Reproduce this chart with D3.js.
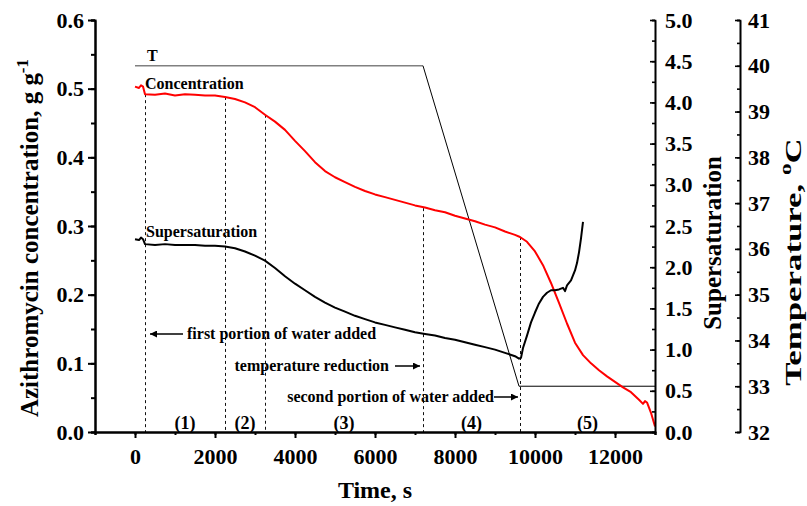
<!DOCTYPE html>
<html>
<head>
<meta charset="utf-8">
<script src="https://cdn.jsdelivr.net/npm/d3@7/dist/d3.min.js"></script>
<style>
  html, body { margin: 0; padding: 0; background: #fff; }
  svg { display: block; }
  svg text { font-family: "Liberation Serif", "Times New Roman", serif !important; font-weight: 700 !important; fill: #000; }
</style>
</head>
<body>
<svg id="chart" width="807" height="506"></svg>
<script>
// Azithromycin concentration (g/g) over time (s)
const concTime = [0, 100, 150, 200, 250, 500, 750, 1000, 1250, 1500, 1750, 2000, 2250, 2500, 2750, 3000, 3250, 3500, 3750, 4000, 4250, 4500, 4750, 5000, 5250, 5500, 5750, 6000, 6250, 6500, 6750, 7000, 7250, 7500, 7750, 8000, 8250, 8500, 8750, 9000, 9250, 9500, 9625, 9800, 10000, 10200, 10400, 10600, 10800, 11000, 11200, 11400, 11600, 11800, 12000, 12200, 12400, 12600, 12700, 12750, 12800, 12900, 13000];
const concValue = [0.503, 0.501, 0.505, 0.503, 0.492, 0.491, 0.493, 0.490, 0.492, 0.491, 0.490, 0.490, 0.488, 0.485, 0.480, 0.473, 0.462, 0.452, 0.440, 0.424, 0.409, 0.393, 0.380, 0.371, 0.364, 0.357, 0.351, 0.346, 0.342, 0.338, 0.334, 0.330, 0.327, 0.323, 0.320, 0.315, 0.311, 0.307, 0.302, 0.298, 0.292, 0.287, 0.284, 0.277, 0.263, 0.243, 0.217, 0.188, 0.158, 0.130, 0.112, 0.100, 0.090, 0.081, 0.073, 0.065, 0.058, 0.047, 0.041, 0.045, 0.043, 0.028, 0.008];

// Supersaturation over time (s)
const supTime = [0, 100, 150, 200, 250, 500, 750, 1000, 1250, 1500, 1750, 2000, 2250, 2500, 2750, 3000, 3250, 3500, 3750, 4000, 4250, 4500, 4750, 5000, 5250, 5500, 5750, 6000, 6250, 6500, 6750, 7000, 7250, 7500, 7750, 8000, 8250, 8500, 8750, 9000, 9250, 9500, 9600, 9650, 9700, 9800, 9900, 10000, 10100, 10200, 10300, 10400, 10500, 10600, 10700, 10750, 10800, 10900, 11000, 11050, 11100, 11150, 11200];
const supValue = [2.34, 2.33, 2.36, 2.34, 2.28, 2.27, 2.28, 2.27, 2.27, 2.27, 2.26, 2.26, 2.25, 2.23, 2.19, 2.14, 2.08, 1.99, 1.89, 1.80, 1.72, 1.64, 1.57, 1.51, 1.46, 1.41, 1.37, 1.33, 1.30, 1.27, 1.24, 1.21, 1.19, 1.17, 1.14, 1.12, 1.09, 1.06, 1.03, 1.00, 0.96, 0.92, 0.89, 0.90, 1.02, 1.17, 1.33, 1.45, 1.56, 1.64, 1.69, 1.72, 1.72, 1.73, 1.75, 1.71, 1.78, 1.84, 1.96, 2.05, 2.18, 2.35, 2.55];

// Temperature programme (°C)
const tempTime = [0, 7200, 9600, 13000];
const tempValue = [40, 40, 33, 33];

// Stage boundaries (s) and concentration where each marker line starts
const stageTime = [250, 2250, 3250, 7200, 9625];
const stageConc = [0.492, 0.488, 0.462, 0.326, 0.284];
const stageLabels = ["(1)", "(2)", "(3)", "(4)", "(5)"];

// Tick values
const timeTicks = [0, 2000, 4000, 6000, 8000, 10000, 12000];
const concTicks = [0, 0.1, 0.2, 0.3, 0.4, 0.5, 0.6];
const supTicks = [0, 0.5, 1, 1.5, 2, 2.5, 3, 3.5, 4, 4.5, 5];
const tempTicks = [32, 33, 34, 35, 36, 37, 38, 39, 40, 41];

const svg = d3.select("#chart");

const x = d3.scaleLinear().domain([-1000, 13000]).range([95, 655]);
const yC = d3.scaleLinear().domain([0, 0.6]).range([432, 20]);
const yS = d3.scaleLinear().domain([0, 5]).range([432, 20]);
const yT = d3.scaleLinear().domain([32, 41]).range([432, 20]);

const concData = concTime.map((t, i) => [t, concValue[i]]);
const supData = supTime.map((t, i) => [t, supValue[i]]);
const tempData = tempTime.map((t, i) => [t, tempValue[i]]);

// stage marker lines
svg.append("g").selectAll("line").data(stageTime).join("line")
  .attr("x1", d => Math.round(x(d)) + 0.5).attr("x2", d => Math.round(x(d)) + 0.5)
  .attr("y1", (d, i) => yC(stageConc[i])).attr("y2", yC(0))
  .attr("stroke", "#111").attr("stroke-width", 1).attr("stroke-dasharray", "3,3");

// stage labels centred between boundaries
const stageEdges = stageTime.concat([13000]);
svg.append("g").selectAll("text").data(stageLabels).join("text")
  .attr("x", (d, i) => (x(stageEdges[i]) + x(stageEdges[i + 1])) / 2)
  .attr("y", 429).attr("text-anchor", "middle").attr("font-size", 18)
  .text(d => d);

// temperature line: constant part in grey, ramp and hold in black
svg.append("path").datum(tempData.slice(0, 2))
  .attr("fill", "none").attr("stroke", "#808080").attr("stroke-width", 1.6)
  .attr("d", d3.line().x(d => x(d[0])).y(d => yT(d[1])));
svg.append("path").datum(tempData.slice(1))
  .attr("fill", "none").attr("stroke", "#000").attr("stroke-width", 1)
  .attr("d", d3.line().x(d => x(d[0])).y(d => yT(d[1])));

// concentration and supersaturation curves
svg.append("path").datum(concData)
  .attr("fill", "none").attr("stroke", "#ff0000").attr("stroke-width", 2)
  .attr("stroke-linejoin", "round")
  .attr("d", d3.line().x(d => x(d[0])).y(d => yC(d[1])));
svg.append("path").datum(supData)
  .attr("fill", "none").attr("stroke", "#000").attr("stroke-width", 2)
  .attr("stroke-linejoin", "round")
  .attr("d", d3.line().x(d => x(d[0])).y(d => yS(d[1])));

// axes
function styleAxis(g, lw) {
  g.attr("font-family", null).attr("font-size", null);
  g.select(".domain").attr("stroke", "#000").attr("stroke-width", lw);
  g.selectAll(".tick line").attr("stroke", "#000").attr("stroke-width", lw);
  g.selectAll("text").style("font-size", "22px").style("font-weight", "700");
}
function range(a, b, s) { const r = []; for (let v = a; v <= b + 1e-9; v += s) r.push(+v.toFixed(4)); return r; }

// bottom
const gxMinor = svg.append("g").attr("transform", "translate(0,432)")
  .call(d3.axisBottom(x).tickValues(range(-1000, 13000, 1000)).tickSize(3).tickFormat(""));
styleAxis(gxMinor, 2);
const gx = svg.append("g").attr("transform", "translate(0,432)")
  .call(d3.axisBottom(x).tickValues(timeTicks).tickFormat(d3.format("d")).tickSizeInner(6).tickSizeOuter(0).tickPadding(10));
styleAxis(gx, 2);

// left
const gyMinor = svg.append("g").attr("transform", "translate(95,0)")
  .call(d3.axisLeft(yC).tickValues(range(0, 0.6, 0.05)).tickSize(4).tickFormat(""));
styleAxis(gyMinor, 2);
const gy = svg.append("g").attr("transform", "translate(95,0)")
  .call(d3.axisLeft(yC).tickValues(concTicks).tickFormat(d3.format(".1f")).tickSizeInner(7).tickSizeOuter(0).tickPadding(4));
styleAxis(gy, 2);

// right: supersaturation (ticks inward)
const gsMinor = svg.append("g").attr("transform", "translate(655,0)")
  .call(d3.axisRight(yS).tickValues(range(0, 5, 0.25)).tickSize(-3).tickFormat(""));
styleAxis(gsMinor, 1.6);
const gs = svg.append("g").attr("transform", "translate(655,0)")
  .call(d3.axisRight(yS).tickValues(supTicks).tickFormat(d3.format(".1f")).tickSizeInner(-5).tickSizeOuter(0).tickPadding(10));
styleAxis(gs, 1.6);

// right: temperature (ticks inward)
const gtMinor = svg.append("g").attr("transform", "translate(740,0)")
  .call(d3.axisRight(yT).tickValues(range(32, 41, 0.5)).tickSize(-3).tickFormat(""));
styleAxis(gtMinor, 1.6);
const gt = svg.append("g").attr("transform", "translate(740,0)")
  .call(d3.axisRight(yT).tickValues(tempTicks).tickFormat(d3.format("d")).tickSizeInner(-5).tickSizeOuter(0).tickPadding(8));
styleAxis(gt, 1.6);

// axis titles
svg.append("text").attr("x", 375).attr("y", 498).attr("text-anchor", "middle")
  .attr("font-size", 24).text("Time, s");

const yTitle = svg.append("text").attr("text-anchor", "middle").attr("font-size", 25)
  .attr("transform", "translate(38,238) rotate(-90)");
yTitle.append("tspan").text("Azithromycin concentration, g g");
yTitle.append("tspan").attr("font-size", 17).attr("dy", -10).text("-1");

svg.append("text").attr("text-anchor", "middle").attr("font-size", 25)
  .attr("transform", "translate(721,243) rotate(-90)").text("Supersaturation");

// temperature title, stretched along its reading direction
const tTitle = svg.append("text").attr("text-anchor", "middle").attr("font-size", 24)
  .attr("transform", "translate(801,262) rotate(-90) scale(1.45,1)");
tTitle.append("tspan").text("Temperature, ");
tTitle.append("tspan").attr("font-size", 16).attr("dy", -10).text("o");
tTitle.append("tspan").attr("dy", 10).text("C");

// in-plot labels
svg.append("text").attr("x", 147).attr("y", 61).attr("font-size", 16).text("T");
svg.append("text").attr("x", 145).attr("y", 89).attr("font-size", 16).text("Concentration");
svg.append("text").attr("x", 146).attr("y", 237).attr("font-size", 16).text("Supersaturation");

// arrow annotations
const defs = svg.append("defs");
defs.append("marker").attr("id", "arrowHead").attr("viewBox", "0 0 10 10")
  .attr("refX", 10).attr("refY", 5).attr("markerWidth", 9).attr("markerHeight", 7)
  .attr("markerUnits", "userSpaceOnUse").attr("orient", "auto")
  .append("path").attr("d", "M0,0 L10,5 L0,10 Z").attr("fill", "#000");

const notes = [
  { text: "first portion of water added", tx: 187, ty: 339, anchor: "start", ax1: 183, ax2: 150, ay: 334 },
  { text: "temperature reduction", tx: 389, ty: 371, anchor: "end", ax1: 395, ax2: 420, ay: 366 },
  { text: "second portion of water added", tx: 494, ty: 402, anchor: "end", ax1: 494, ax2: 518, ay: 397 }
];
notes.forEach(n => {
  svg.append("text").attr("x", n.tx).attr("y", n.ty).attr("text-anchor", n.anchor)
    .attr("font-size", 16).text(n.text);
  svg.append("line").attr("x1", n.ax1).attr("x2", n.ax2).attr("y1", n.ay).attr("y2", n.ay)
    .attr("stroke", "#000").attr("stroke-width", 1.5).attr("marker-end", "url(#arrowHead)");
});
</script>
</body>
</html>
